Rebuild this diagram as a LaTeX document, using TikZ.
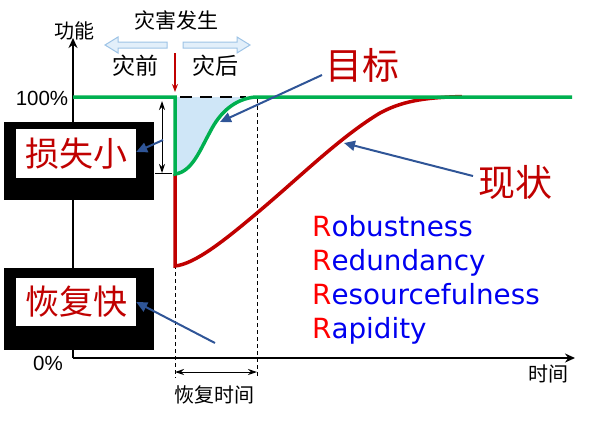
\documentclass[tikz,border=0pt]{standalone}
\usepackage{fontspec}
\setmainfont{Liberation Sans}
\newfontfamily\cjk{Noto Sans CJK SC}
\newfontfamily\dvs{DejaVu Sans}
\usetikzlibrary{arrows.meta}
\definecolor{curvered}{HTML}{C00000}
\definecolor{curvegreen}{HTML}{00B050}
\definecolor{callblue}{HTML}{2F5597}
\definecolor{lossfill}{HTML}{CFE6F7}
\definecolor{lbedge}{HTML}{9DC3E6}
\definecolor{lbfill}{HTML}{E2EFFA}
\definecolor{rblue}{HTML}{0000F0}
\definecolor{rred}{HTML}{FF0000}
\begin{document}
\begin{tikzpicture}[x=1pt,y=-1pt,
  lbl/.style={inner sep=0pt, font=\cjk\fontsize{21}{21}\selectfont},
  bigred/.style={inner sep=0pt, text=curvered, font=\cjk\fontsize{37}{37}\selectfont},
  boxred/.style={inner sep=0pt, text=curvered, fill=white, font=\cjk\fontsize{34}{34}\selectfont},
  blackbox/.style={fill=black, inner sep=0pt},
  callout/.style={draw=callblue, line width=2pt, -{Triangle[length=11pt,width=10pt]}},
  axisline/.style={line width=2pt, -{Stealth[length=10pt,width=9pt]}},
  guide/.style={line width=0.8pt, dash pattern=on 4pt off 3pt},
  dim/.style={line width=1pt, {Stealth[length=9pt,width=6pt]}-{Stealth[length=9pt,width=6pt]}},
  rline/.style={inner sep=0pt, anchor=base west, font=\dvs\fontsize{27.8}{27.8}\selectfont, text=rblue},
  blockarrow/.style={draw=lbedge, fill=lbfill, line width=1pt}
]
\useasboundingbox (0,0) rectangle (593,421);

% axes
\coordinate (O) at (73,358);
\coordinate (ytop) at (73,38);
\coordinate (xend) at (575,358);
\draw[axisline] (O) -- (ytop);
\draw[axisline] (O) -- (xend);
\node[lbl, font=\cjk\fontsize{20}{20}\selectfont] (func) at (74,31) {功能};
\node[lbl, font=\cjk\fontsize{20}{20}\selectfont] (time) at (548,374) {时间};
\node[inner sep=0pt, font=\fontsize{20.5}{20.5}\selectfont] (p100) at (42,98) {100\%};
\node[inner sep=0pt, font=\fontsize{20.5}{20.5}\selectfont] (p0) at (48,363) {0\%};

% shaded loss area
\fill[lossfill] (175,97) -- (175,174) .. controls (192,172) and (200,150) .. (210,132)
   .. controls (220,112) and (235,99) .. (255,97) -- cycle;
\draw[line width=2.2pt, dash pattern=on 12pt off 8pt] (180,97) -- (246,97);

% guides
\draw[guide] (175,97) -- (175,378);
\draw[guide] (257,99) -- (257,378);
\coordinate (r1) at (175,372);
\coordinate (r2) at (257,372);
\draw[dim] (r1) -- (r2);
\node[lbl, font=\cjk\fontsize{20}{20}\selectfont] (rtime) at (214,395) {恢复时间};

% loss dimension
\coordinate (l1) at (162,101);
\coordinate (l2) at (162,173);
\draw[dim] (l1) -- (l2);
\coordinate (t1) at (155,173);
\coordinate (t2) at (172,173);
\draw[line width=1pt] (t1) -- (t2);

% curves
\draw[curvered, line width=3.5pt] (175,174) -- (175,266) .. controls (195,264) and (225,240) .. (257,213)
   .. controls (300,177) and (340,137) .. (380,113) .. controls (405,99.5) and (430,97.5) .. (462,96.5);
\draw[curvegreen, line width=3.5pt] (73,97) -- (175,97) -- (175,174) .. controls (192,172) and (200,150) .. (210,132)
   .. controls (220,112) and (235,99) .. (255,97) -- (572,97);

% disaster arrow
\coordinate (d1) at (175,53);
\coordinate (d2) at (175,92);
\draw[curvered, line width=1.2pt, -{Stealth[length=8pt,width=6pt]}] (d1) -- (d2);

% top labels and block arrows
\node[lbl] (occ) at (176,20) {灾害发生};
\draw[blockarrow] (167,42) -- (118,42) -- (118,37) -- (105,45) -- (118,53) -- (118,48) -- (167,48) -- cycle;
\draw[blockarrow] (183,42) -- (237,42) -- (237,37) -- (250,45) -- (237,53) -- (237,48) -- (183,48) -- cycle;
\node[lbl, font=\cjk\fontsize{23}{23}\selectfont] (before) at (135,66) {灾前};
\node[lbl, font=\cjk\fontsize{23}{23}\selectfont] (after) at (215,66) {灾后};

% boxes
\node[blackbox, minimum width=150pt, minimum height=78pt] (box1) at (79,161) {};
\node[boxred, minimum width=120pt, minimum height=49pt] (loss) at (76,153.5) {损失小};
\node[blackbox, minimum width=150pt, minimum height=82pt] (box2) at (79,309) {};
\node[boxred, minimum width=120pt, minimum height=48pt] (fast) at (76,302) {恢复快};

% callouts
\node[bigred] (goal) at (362,65) {目标};
\node[bigred] (now) at (515,182) {现状};
\coordinate (g1) at (322,75);
\coordinate (g2) at (220,122);
\draw[callout] (g1) -- (g2);
\coordinate (n1) at (473,176);
\coordinate (n2) at (344,143);
\draw[callout] (n1) -- (n2);
\coordinate (ls1) at (163,140);
\draw[callout] (ls1) -- (loss.east |- 0,152);
\coordinate (f1) at (215,343);
\draw[callout] (f1) -- (fast.east |- 0,302);

% 4R
\node[rline] (rb) at (312,236) {\textcolor{rred}{R}obustness};
\node[rline] (rd) at (312,270) {\textcolor{rred}{R}edundancy};
\node[rline] (rs) at (312,304) {\textcolor{rred}{R}esourcefulness};
\node[rline] (ra) at (312,338) {\textcolor{rred}{R}apidity};
\end{tikzpicture}
\end{document}
